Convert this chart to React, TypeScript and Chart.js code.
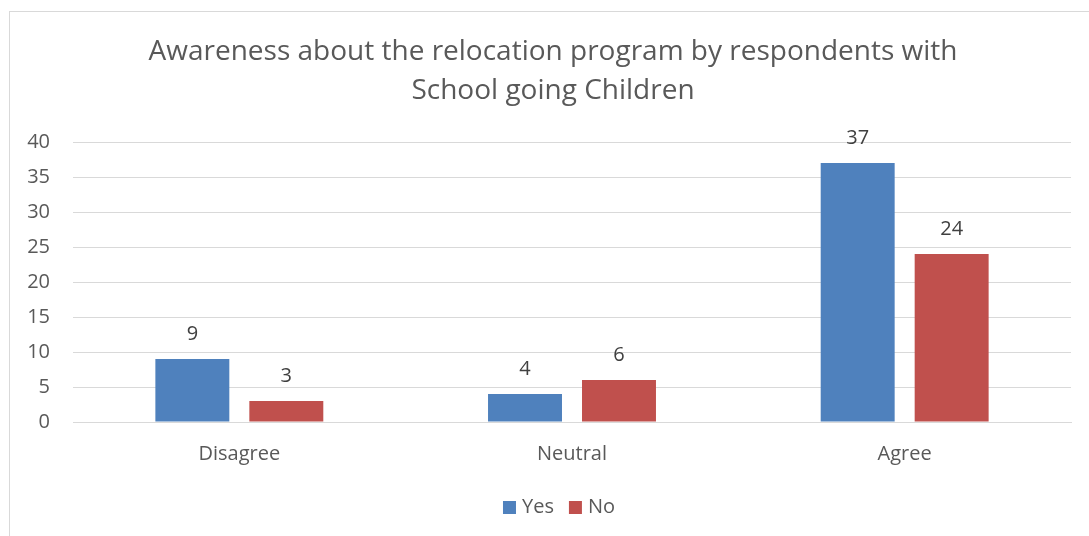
import React, { useEffect, useRef } from "react";
import { Chart, registerables } from "chart.js";

Chart.register(...registerables);

const categories = ["Disagree", "Neutral", "Agree"];
const seriesNames = ["Yes", "No"];
const yesValues = [9, 4, 37];
const noValues = [3, 6, 24];
const seriesColors = ["#4F81BD", "#C0504D"];
const titleLines = [
  "Awareness about the relocation program by respondents with",
  "School going Children",
];
const yMin = 0;
const yMax = 40;
const yStep = 5;

const FONT = "'Open Sans', sans-serif";

const overlayPlugin = {
  id: "overlay",
  afterDatasetsDraw(chart: any) {
    const ctx = chart.ctx as CanvasRenderingContext2D;
    ctx.save();
    // data labels
    ctx.font = `20px ${FONT}`;
    ctx.fillStyle = "#404040";
    ctx.textAlign = "center";
    ctx.textBaseline = "middle";
    chart.data.datasets.forEach((ds: any, i: number) => {
      const meta = chart.getDatasetMeta(i);
      meta.data.forEach((bar: any, j: number) => {
        ctx.fillText(String(ds.data[j]), bar.x, bar.y - 25);
      });
    });
    // title
    ctx.font = `28px ${FONT}`;
    ctx.fillStyle = "#595959";
    titleLines.forEach((line, k) => {
      ctx.fillText(line, 553, 52 + k * 39);
    });
    // legend
    ctx.font = `20px ${FONT}`;
    ctx.textAlign = "left";
    const box = 13;
    const gap = 6;
    const spacing = 15;
    const widths = chart.data.datasets.map(
      (ds: any) => box + gap + ctx.measureText(ds.label).width
    );
    const total = widths.reduce((a: number, b: number) => a + b, 0) + spacing * (widths.length - 1);
    let x = 559 - total / 2;
    const cy = 507.5;
    chart.data.datasets.forEach((ds: any, i: number) => {
      ctx.fillStyle = ds.backgroundColor;
      ctx.fillRect(x, cy - box / 2, box, box);
      ctx.fillStyle = "#595959";
      ctx.fillText(ds.label, x + box + gap, cy);
      x += widths[i] + spacing;
    });
    ctx.restore();
  },
};

export default function App() {
  const canvasRef = useRef<HTMLCanvasElement | null>(null);

  useEffect(() => {
    document.body.style.margin = "0";
    const canvas = canvasRef.current;
    if (!canvas) return;
    const chart = new Chart(canvas, {
      type: "bar",
      data: {
        labels: categories,
        datasets: [
          {
            label: seriesNames[0],
            data: yesValues,
            backgroundColor: seriesColors[0],
            categoryPercentage: 0.565,
            barPercentage: 0.787,
          },
          {
            label: seriesNames[1],
            data: noValues,
            backgroundColor: seriesColors[1],
            categoryPercentage: 0.565,
            barPercentage: 0.787,
          },
        ],
      },
      options: {
        responsive: false,
        animation: false,
        devicePixelRatio: 1,
        layout: { padding: { left: 0, right: 18, top: 142, bottom: 0 } },
        plugins: {
          legend: { display: false },
          title: { display: false },
          tooltip: { enabled: false },
        },
        scales: {
          x: {
            grid: { display: false, drawTicks: false },
            border: { display: true, color: "#D9D9D9", width: 1 },
            ticks: {
              color: "#595959",
              font: { family: FONT, size: 20 },
              padding: 20,
            },
            afterFit: (scale: any) => {
              scale.height = 114;
            },
          },
          y: {
            min: yMin,
            max: yMax,
            ticks: {
              stepSize: yStep,
              color: "#595959",
              font: { family: FONT, size: 20 },
              padding: 23,
            },
            grid: { color: "#D9D9D9", drawTicks: false, lineWidth: 1 },
            border: { display: false },
            afterFit: (scale: any) => {
              scale.width = 73;
            },
          },
        },
      },
      plugins: [overlayPlugin],
    });
    return () => chart.destroy();
  }, []);

  return (
    <div
      style={{
        position: "fixed",
        left: 0,
        top: 0,
        width: 1089,
        height: 536,
        background: "#ffffff",
        overflow: "hidden",
      }}
    >
      <div
        style={{
          position: "absolute",
          left: 9,
          top: 11,
          width: 1100,
          height: 540,
          border: "1px solid #D9D9D9",
          boxSizing: "border-box",
        }}
      />
      <canvas
        ref={canvasRef}
        width={1089}
        height={536}
        style={{ position: "absolute", left: 0, top: 0 }}
      />
    </div>
  );
}
